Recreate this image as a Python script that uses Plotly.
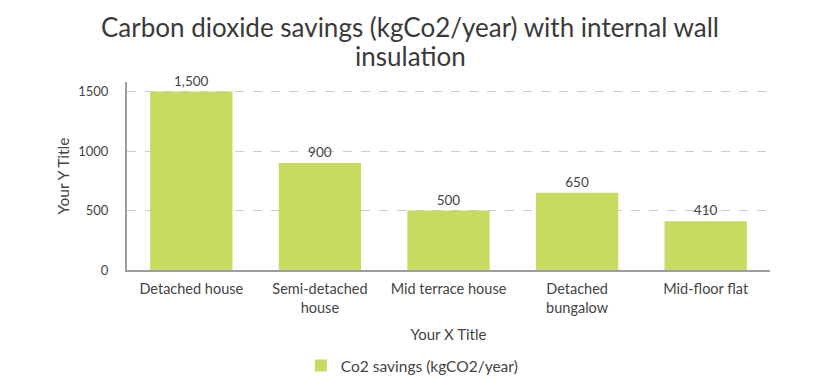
import plotly.graph_objects as go

categories = ["Detached house", "Semi-detached<br>house", "Mid terrace house", "Detached<br>bungalow", "Mid-floor flat"]
savings = [1500, 900, 500, 650, 410]
series_name = "Co2 savings (kgCO2/year)"
y_ticks = [0, 500, 1000, 1500]
title_lines = ["Carbon dioxide savings (kgCo2/year) with internal wall", "insulation"]

FONT = "Lato, Open Sans, sans-serif"
W, H = 814, 381
fig = go.Figure()
fig.add_trace(go.Bar(
    x=categories, y=savings, name=series_name,
    marker=dict(color="#c8da5f", line=dict(width=0)),
    text=[f"{v:,}" for v in savings], textposition="outside",
    textfont=dict(size=13.5, color="#444444", family=FONT),
    cliponaxis=False,
))
for line, ypos in zip(title_lines, [1.2926, 1.136]):
    fig.add_annotation(text=line, xref="paper", yref="paper", x=0.4409, y=ypos,
                       xanchor="center", yanchor="middle", showarrow=False, align="center",
                       font=dict(size=26, color="#3a3a3a", family=FONT))
fig.update_layout(
    width=W, height=H,
    paper_bgcolor="white", plot_bgcolor="white",
    margin=dict(l=119, r=52, t=74, b=119, autoexpand=False),
    font=dict(family=FONT, color="#444444", size=12),
    bargap=0.36,
    showlegend=True,
    legend=dict(orientation="h", x=0.443, xanchor="center", xref="paper", y=0.0604, yanchor="middle",
                yref="container", font=dict(size=15.5, color="#444444")),
    xaxis=dict(showline=True, linecolor="#9a9ea3", linewidth=2, ticks="", automargin=False,
               ticklabelstandoff=5,
               title=dict(text="Your X Title", font=dict(size=15), standoff=14),
               tickfont=dict(size=14.5)),
    yaxis=dict(range=[0, 1580], tickvals=y_ticks, showline=True, linecolor="#9a9ea3", linewidth=2,
               showgrid=True, gridcolor="#cccccc", griddash="dash", gridwidth=1, automargin=False,
               zeroline=False, ticks="", ticklabelstandoff=14,
               title=dict(text="Your Y Title", font=dict(size=15.5), standoff=5),
               tickfont=dict(size=13)),
)
fig.write_html("out.html")
